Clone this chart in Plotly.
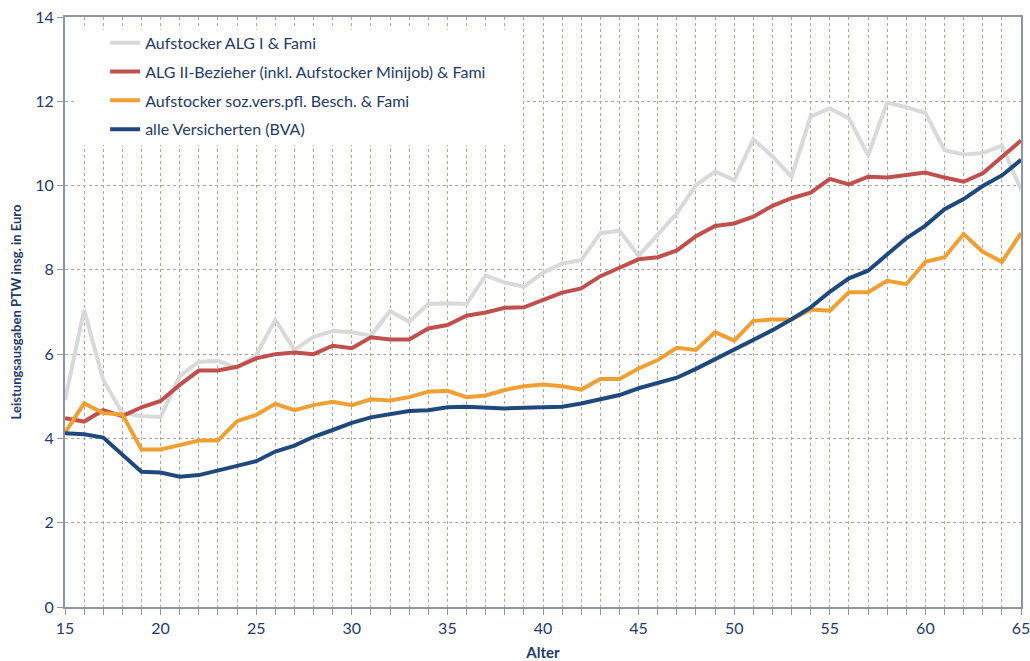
import plotly.graph_objects as go

ages = list(range(15, 66))

alg1 = [4.91, 7.05, 5.39, 4.6, 4.53, 4.51, 5.48, 5.82, 5.84, 5.67, 5.98, 6.81, 6.1, 6.41, 6.55, 6.52,
        6.44, 7.02, 6.77, 7.19, 7.21, 7.19, 7.87, 7.7, 7.6, 7.93, 8.15, 8.23, 8.87, 8.93, 8.33,
        8.83, 9.34, 10.01, 10.33, 10.13, 11.1, 10.69, 10.21, 11.64, 11.83, 11.6, 10.72, 11.97, 11.86,
        11.72, 10.84, 10.74, 10.77, 10.95, 9.9]
alg2 = [4.48, 4.4, 4.67, 4.53, 4.74, 4.89, 5.27, 5.61, 5.61, 5.7, 5.9, 6.0, 6.04, 6.0, 6.2, 6.14,
        6.4, 6.35, 6.35, 6.61, 6.69, 6.91, 6.99, 7.1, 7.11, 7.28, 7.46, 7.56, 7.85, 8.05, 8.25,
        8.3, 8.46, 8.8, 9.04, 9.1, 9.26, 9.52, 9.7, 9.83, 10.16, 10.03, 10.21, 10.19, 10.24,
        10.31, 10.19, 10.09, 10.29, 10.69, 11.07]
sozvers = [4.14, 4.83, 4.6, 4.57, 3.74, 3.74, 3.84, 3.95, 3.95, 4.41, 4.56, 4.82, 4.67, 4.79, 4.87, 4.79,
           4.93, 4.9, 4.98, 5.11, 5.13, 4.98, 5.02, 5.15, 5.24, 5.28, 5.24, 5.16, 5.41, 5.41, 5.66,
           5.86, 6.15, 6.1, 6.52, 6.32, 6.79, 6.82, 6.82, 7.06, 7.03, 7.47, 7.47, 7.74, 7.66,
           8.19, 8.3, 8.85, 8.43, 8.19, 8.87]
alle = [4.12, 4.1, 4.02, 3.63, 3.21, 3.19, 3.09, 3.13, 3.25, 3.35, 3.46, 3.69, 3.83, 4.04, 4.2, 4.37,
        4.5, 4.57, 4.65, 4.67, 4.74, 4.75, 4.74, 4.71, 4.73, 4.75, 4.75, 4.83, 4.94, 5.03, 5.19,
        5.32, 5.44, 5.65, 5.88, 6.11, 6.34, 6.57, 6.83, 7.11, 7.48, 7.8, 7.98, 8.38, 8.75,
        9.05, 9.44, 9.68, 9.99, 10.24, 10.61]

names = ["Aufstocker ALG I & Fami",
         "ALG II-Bezieher (inkl. Aufstocker Minijob) & Fami",
         "Aufstocker soz.vers.pfl. Besch. & Fami",
         "alle Versicherten (BVA)"]
series = [alg1, alg2, sozvers, alle]
colors = ["#d9d9d9", "#c0504d", "#f0a033", "#1f497d"]

TXT = "#1f3a68"
GRID = "#b0a99a"
AX = "#8e96a6"

fig = go.Figure()
for i, (n, s, c) in enumerate(zip(names, series, colors)):
    fig.add_trace(go.Scatter(x=ages, y=s, name=n, mode="lines",
                             line=dict(color=c, width=4), legendgroup=f"g{i}"))

fig.add_shape(type="rect", xref="paper", yref="paper", x0=0.0126, x1=0.479, y0=0.783, y1=0.979,
              fillcolor="white", line=dict(width=0), layer="above")

fig.update_layout(
    width=1030, height=661,
    margin=dict(l=65, r=9, t=17, b=54),
    paper_bgcolor="white", plot_bgcolor="white",
    font=dict(family="Lato, Carlito, sans-serif", color=TXT, size=16),
    showlegend=True,
    legend=dict(x=0.042, y=0.985, xanchor="left", yanchor="top", bgcolor="rgba(0,0,0,0)",
                font=dict(size=16, color=TXT), tracegroupgap=5, traceorder="grouped",
                itemwidth=30),
)
fig.update_xaxes(
    range=[15, 65], tickmode="linear", tick0=15, dtick=5, automargin=False,
    ticklabeloverflow="allow",
    showgrid=True, gridcolor=GRID, griddash="dot", gridwidth=1,
    showline=True, linecolor=AX, linewidth=2, mirror=True,
    ticks="outside", ticklen=6, tickcolor=AX,
    minor=dict(dtick=1, tick0=15, showgrid=True, gridcolor=GRID, griddash="dot", gridwidth=1,
               ticks="outside", ticklen=6, tickcolor=AX),
    tickfont=dict(size=16, color=TXT),
    title=dict(text="<b>Alter</b>", font=dict(size=15, color=TXT), standoff=17),
    zeroline=False,
)
fig.update_yaxes(
    range=[0, 14], tickmode="linear", tick0=0, dtick=2, automargin=False,
    ticklabeloverflow="allow",
    showgrid=True, gridcolor=GRID, griddash="dot", gridwidth=1,
    showline=True, linecolor=AX, linewidth=2, mirror=True,
    ticks="outside", ticklen=6, tickcolor=AX,
    tickfont=dict(size=16, color=TXT),
    title=dict(text="<b>Leistungsausgaben PTW insg. in Euro</b>", font=dict(size=13, color=TXT), standoff=11),
    zeroline=False,
)

fig.write_html("out.html", config={"displayModeBar": False},
               post_script="document.body.style.margin='0';document.body.style.overflow='hidden';")
